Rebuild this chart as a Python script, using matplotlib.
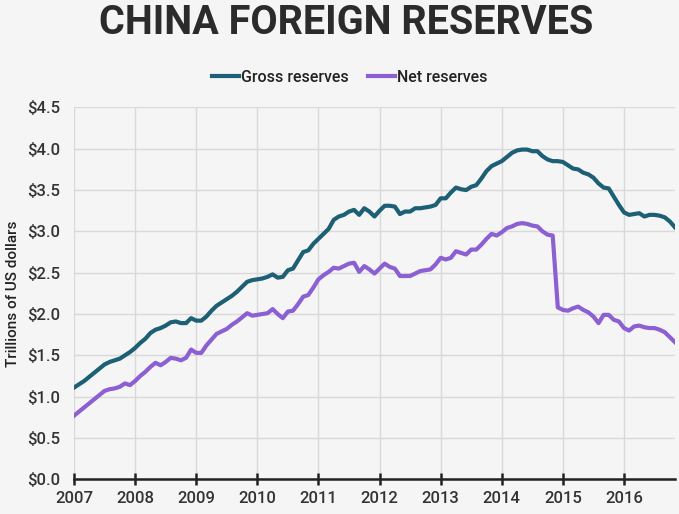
import matplotlib.pyplot as plt
from matplotlib.ticker import FuncFormatter

plt.rcParams['font.family'] = ['Roboto', 'DejaVu Sans']

# monthly, Jan 2007 .. Nov 2016 (trillions of US dollars)
gross = [1.11, 1.15, 1.19, 1.24, 1.29, 1.34, 1.39, 1.42, 1.44, 1.46, 1.50, 1.54,
         1.59, 1.65, 1.70, 1.77, 1.81, 1.83, 1.86, 1.90, 1.91, 1.89, 1.89, 1.95,
         1.92, 1.92, 1.97, 2.04, 2.10, 2.14, 2.18, 2.22, 2.27, 2.33, 2.39, 2.41,
         2.42, 2.43, 2.45, 2.48, 2.44, 2.45, 2.53, 2.55, 2.65, 2.75, 2.77, 2.85,
         2.91, 2.97, 3.03, 3.14, 3.18, 3.20, 3.24, 3.26, 3.20, 3.28, 3.24, 3.18,
         3.25, 3.31, 3.31, 3.30, 3.21, 3.24, 3.24, 3.28, 3.28, 3.29, 3.30, 3.32,
         3.40, 3.40, 3.47, 3.53, 3.51, 3.50, 3.54, 3.56, 3.64, 3.73, 3.79, 3.82,
         3.85, 3.90, 3.95, 3.98, 3.99, 3.99, 3.97, 3.97, 3.91, 3.87, 3.85, 3.85,
         3.84, 3.80, 3.76, 3.75, 3.71, 3.69, 3.65, 3.58, 3.53, 3.52, 3.42, 3.32,
         3.23, 3.20, 3.21, 3.22, 3.18, 3.20, 3.20, 3.19, 3.17, 3.12, 3.05]
net = [0.77, 0.82, 0.87, 0.92, 0.97, 1.02, 1.07, 1.09, 1.10, 1.12, 1.16, 1.14,
       1.19, 1.25, 1.30, 1.36, 1.41, 1.38, 1.42, 1.47, 1.46, 1.44, 1.47, 1.57,
       1.53, 1.53, 1.62, 1.69, 1.76, 1.79, 1.82, 1.87, 1.91, 1.96, 2.01, 1.98,
       1.99, 2.00, 2.01, 2.06, 2.00, 1.95, 2.03, 2.04, 2.12, 2.21, 2.23, 2.32,
       2.42, 2.47, 2.51, 2.56, 2.55, 2.58, 2.61, 2.62, 2.51, 2.58, 2.54, 2.49,
       2.55, 2.61, 2.57, 2.55, 2.46, 2.46, 2.46, 2.49, 2.52, 2.53, 2.54, 2.60,
       2.68, 2.66, 2.68, 2.76, 2.74, 2.72, 2.78, 2.78, 2.84, 2.91, 2.97, 2.95,
       2.99, 3.04, 3.06, 3.09, 3.10, 3.09, 3.07, 3.06, 3.00, 2.96, 2.95, 2.08,
       2.05, 2.04, 2.07, 2.09, 2.05, 2.02, 1.97, 1.89, 1.99, 1.99, 1.93, 1.91,
       1.83, 1.80, 1.85, 1.86, 1.84, 1.83, 1.83, 1.81, 1.78, 1.72, 1.66]
years = list(range(2007, 2017))
months = [2007 + i / 12 for i in range(len(gross))]

bg = '#f5f5f5'
fig = plt.figure(figsize=(6.79, 5.14), dpi=100, facecolor=bg)
ax = fig.add_axes([0.109, 0.0675, 0.885, 0.7235], facecolor=bg)

ax.plot(months, gross, color='#1d5f74', lw=3, label='Gross reserves', solid_joinstyle='round')
ax.plot(months, net, color='#8c5fd3', lw=3, label='Net reserves', solid_joinstyle='round')

ax.set_xlim(2007, months[-1])
ax.set_ylim(0, 4.5)
ax.set_xticks(years)
ax.set_yticks([i * 0.5 for i in range(10)])
ax.yaxis.set_major_formatter(FuncFormatter(lambda v, p: '${:.1f}'.format(v)))
ax.grid(True, color='#d9d9d9', lw=1)
ax.set_axisbelow(True)

for s in ['top', 'right', 'left']:
    ax.spines[s].set_visible(False)
ax.spines['bottom'].set_color('#222222')
ax.spines['bottom'].set_linewidth(1.8)

ax.tick_params(axis='x', direction='inout', length=9, width=1.8, color='#222222',
               labelsize=12, labelcolor='#333333', pad=4)
ax.tick_params(axis='y', length=0, labelsize=12, labelcolor='#333333', pad=10)
for lab in ax.get_xticklabels() + ax.get_yticklabels():
    lab.set_fontweight('medium')

ax.set_ylabel('Trillions of US dollars', fontsize=11, fontweight='medium',
              color='#222222', labelpad=5)

fig.text(0.51, 0.993, 'CHINA FOREIGN RESERVES', ha='center', va='top',
         fontsize=28.5, fontweight='bold', color='#2b2b2b')

leg = fig.legend(loc='center', bbox_to_anchor=(0.515, 0.85), ncol=2, frameon=False,
                 handlelength=1.7, handletextpad=0.1, columnspacing=1.2, fontsize=11.5)
for t in leg.get_texts():
    t.set_color('#222222')
    t.set_fontweight('medium')

plt.savefig('out.png', dpi=100, facecolor=bg)
